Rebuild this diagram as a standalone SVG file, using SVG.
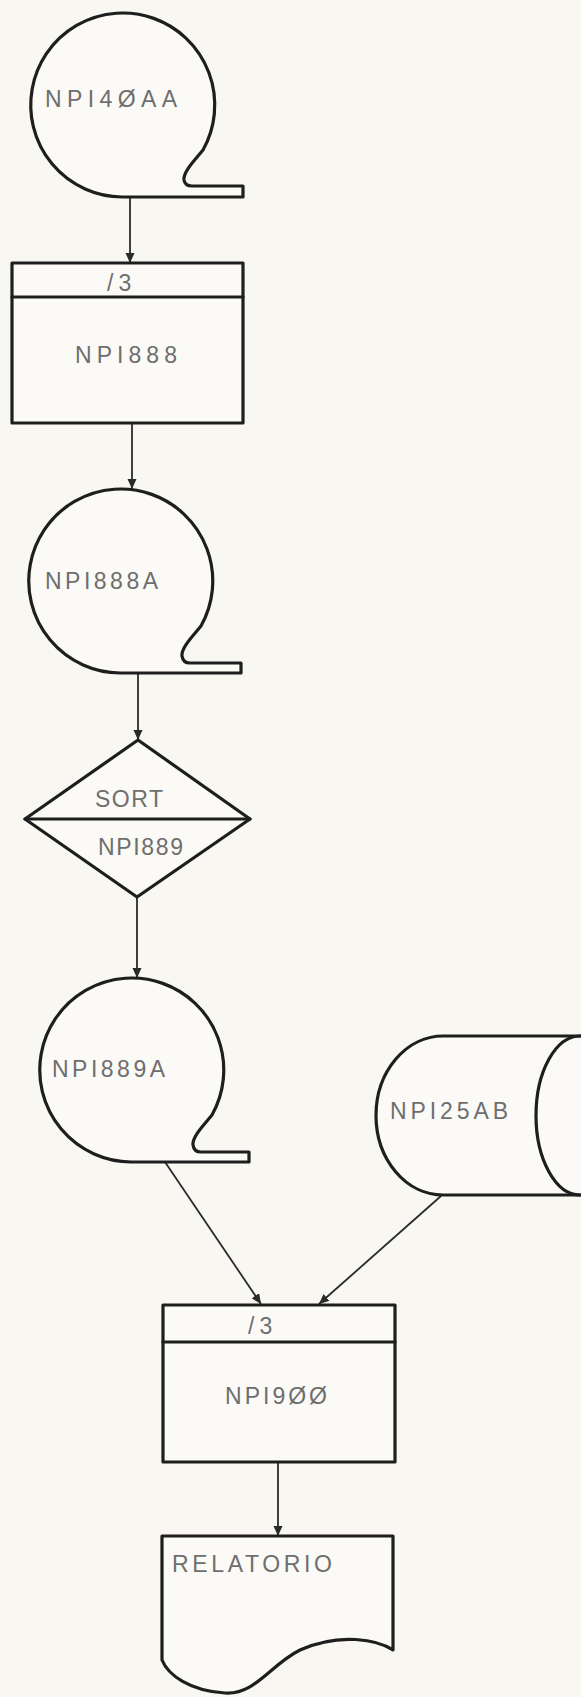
<svg xmlns="http://www.w3.org/2000/svg" width="581" height="1697" viewBox="0 0 581 1697">
<style>
.shape{fill:none;stroke:#1e1e1e;stroke-width:3.2;stroke-linejoin:round;stroke-linecap:round}
.fillw{fill:#fbfaf6}
.conn{stroke:#2a2a2a;stroke-width:1.8;fill:none;marker-end:url(#ah)}
.lbl{font-family:"Liberation Sans",Arial,sans-serif;fill:#6e6e6e;font-size:23px}
.sm{font-size:23px;letter-spacing:5px}
</style>
<defs>
<marker id="ah" markerUnits="userSpaceOnUse" markerWidth="12" markerHeight="12" refX="10" refY="4.5" orient="auto">
<path d="M0,0 L10,4.5 L0,9 Z" fill="#2a2a2a"/>
</marker>
</defs>
<rect x="0" y="0" width="581" height="1697" fill="#f8f7f2"/>

<g id="connectors">
<line class="conn" x1="130" y1="197" x2="130" y2="263"/>
<line class="conn" x1="132" y1="423" x2="132" y2="489"/>
<line class="conn" x1="138" y1="673" x2="138" y2="740"/>
<line class="conn" x1="137" y1="898" x2="137" y2="978"/>
<line class="conn" x1="165" y1="1162" x2="261" y2="1304"/>
<line class="conn" x1="441" y1="1196" x2="319" y2="1304"/>
<line class="conn" x1="278" y1="1463" x2="278" y2="1536"/>
</g>

<g id="tape-NPI40AA">
<path class="shape fillw" d="M203,150 C194,161 183,172 184,180 Q185,186 192,186 L243,186 L243,197 L122,197 A92,92 0 1 1 203,150 Z"/>
<text class="lbl" x="45" y="107" textLength="132" lengthAdjust="spacing">NPI4ØAA</text>
</g>

<g id="proc-NPI888">
<rect class="shape fillw" x="12" y="263" width="231" height="160"/>
<line class="shape" x1="12" y1="297" x2="243" y2="297"/>
<text class="lbl sm" x="107" y="291">/3</text>
<text class="lbl" x="75" y="363" textLength="102" lengthAdjust="spacing">NPI888</text>
</g>

<g id="tape-NPI888A">
<path class="shape fillw" d="M201,626 C192,637 181,648 182,656 Q183,663 190,663 L241,663 L241,673 L120,673 A92,92 0 1 1 201,626 Z"/>
<text class="lbl" x="45" y="589" textLength="113" lengthAdjust="spacing">NPI888A</text>
</g>

<g id="sort-NPI889">
<path class="shape fillw" d="M138,740 L250,819 L137,897 L25,819 Z"/>
<line class="shape" x1="25" y1="819" x2="250" y2="819"/>
<text class="lbl" x="95" y="807" textLength="68" lengthAdjust="spacing">SORT</text>
<text class="lbl" x="98" y="855" textLength="85" lengthAdjust="spacing">NPI889</text>
</g>

<g id="tape-NPI889A">
<path class="shape fillw" d="M212,1115 C203,1126 192,1137 193,1145 Q194,1152 201,1152 L249,1152 L249,1162 L131,1162 A92,92 0 1 1 212,1115 Z"/>
<text class="lbl" x="52" y="1077" textLength="113" lengthAdjust="spacing">NPI889A</text>
</g>

<g id="disk-NPI25AB">
<path class="shape fillw" d="M443,1036 L583,1036 L583,1195 L443,1195 A67,79.5 0 0 1 443,1036 Z"/>
<path class="shape" d="M580,1036 A44,79.5 0 0 0 580,1195"/>
<text class="lbl" x="390" y="1119" textLength="118" lengthAdjust="spacing">NPI25AB</text>
</g>

<g id="proc-NPI900">
<rect class="shape fillw" x="163" y="1305" width="232" height="157"/>
<line class="shape" x1="163" y1="1342" x2="395" y2="1342"/>
<text class="lbl sm" x="248" y="1334">/3</text>
<text class="lbl" x="225" y="1404" textLength="102" lengthAdjust="spacing">NPI9ØØ</text>
</g>

<g id="doc-RELATORIO">
<path class="shape fillw" d="M162,1536 L393,1536 L393,1650 C378,1640 340,1632 300,1650 C270,1665 255,1695 225,1693 C190,1691 168,1675 162,1660 Z"/>
<text class="lbl" x="172" y="1572" textLength="160" lengthAdjust="spacing">RELATORIO</text>
</g>
</svg>
